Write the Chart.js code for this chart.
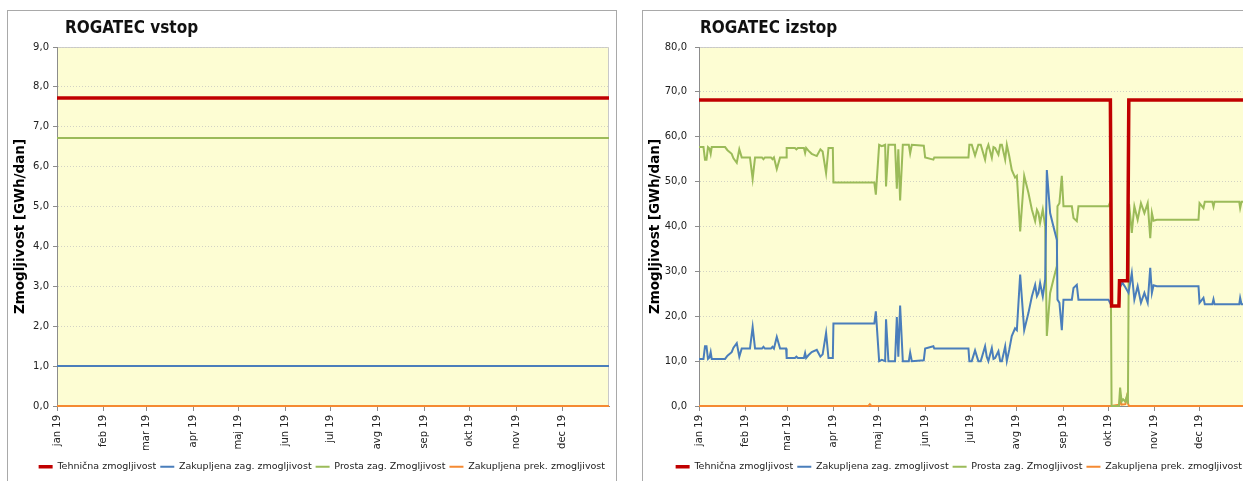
<!DOCTYPE html>
<html lang="sl">
<head>
<meta charset="UTF-8">
<title>ROGATEC vstop / izstop</title>
<script src="https://cdn.jsdelivr.net/npm/chart.js@4"></script>
<style>
  html, body { margin: 0; padding: 0; background: #fff; overflow: hidden; width: 1243px; height: 481px; position: relative; }
  .okvir { position: absolute; top: 10px; border: 1px solid #a9a9a9; background: #fff; }
  #okvirVstop { left: 7px; width: 608px; height: 480px; }
  #okvirIzstop { left: 642px; width: 620px; height: 480px; }
  canvas { display: block; }
</style>
</head>
<body>

<div class="okvir" id="okvirVstop"><canvas id="vstop" width="608" height="472"></canvas></div>
<div class="okvir" id="okvirIzstop"><canvas id="izstop" width="612" height="472"></canvas></div>

<script>
// mesečne oznake na osi x (dan v letu 2019)
const mesecZacetki = [0, 31, 59, 90, 120, 151, 181, 212, 243, 273, 304, 334];
const mesecOznake = ['jan 19', 'feb 19', 'mar 19', 'apr 19', 'maj 19', 'jun 19', 'jul 19', 'avg 19', 'sep 19', 'okt 19', 'nov 19', 'dec 19'];
const imenaSerij = ['Tehnična zmogljivost', 'Zakupljena zag. zmogljivost', 'Prosta zag. Zmogljivost', 'Zakupljena prek. zmogljivost'];

// ROGATEC vstop - konstantne vrednosti
const vstopDni = [0, 365];
const tehnicnaVstop = [7.72, 7.72];
const zakupljenaVstop = [1.0, 1.0];
const prostaVstop = [6.72, 6.72];
const prekinljivaVstop = [0, 0];

// ROGATEC izstop
const tehnicnaDni = [0, 274.5, 275.3, 280.2, 280.6, 286, 286.8, 365];
const tehnicnaIzstop = [68.2, 68.2, 22.3, 22.3, 27.9, 27.9, 68.2, 68.2];

const zakupljenaDni = [0, 3, 4, 5, 6, 7, 7.8, 8.5, 17.4, 19, 21.8, 23, 25.2, 26.9, 28.5, 34, 35.8, 37.4, 42, 43, 44, 48, 49, 50, 51.9, 54.1, 58.1, 58.5, 64, 65, 66, 70, 70.8, 71.5, 73, 75.2, 78.6, 81, 82.5, 84.8, 86.4, 89.3, 89.7, 117, 118, 120.2, 122, 124.2, 124.8, 126.4, 130.8, 132, 133, 134.2, 136, 140, 140.9, 142, 150, 150.9, 156.4, 157, 179.8, 180.4, 182, 184.2, 186.4, 188, 190.9, 192, 193.1, 195.4, 196.5, 197.6, 199.8, 201, 202.1, 204.3, 205.4, 207, 208.7, 210.9, 212.1, 214.3, 217, 219.8, 222.1, 224.3, 225.5, 226.5, 227.6, 229.4, 231, 232.1, 234.3, 236.5, 238.8, 239.2, 240.5, 242.1, 243.2, 248.8, 249.9, 252.1, 253.2, 273.2, 275.3, 280.2, 281, 282.5, 284.4, 286.6, 288.8, 290.5, 292.7, 294.9, 297.2, 299.4, 301.1, 302.2, 303.3, 305.5, 333.3, 334, 336.6, 337.5, 342.5, 343.3, 344, 360.5, 361.1, 362, 365];
const zakupljenaIzstop = [10.5, 10.5, 13.3, 13.3, 10.5, 10.8, 12.0, 10.5, 10.5, 11.2, 12.0, 13.0, 14.0, 11.0, 12.8, 12.8, 17.6, 12.8, 12.8, 13.2, 12.8, 12.8, 13.2, 12.8, 15.4, 12.8, 12.8, 10.7, 10.7, 11.0, 10.7, 10.7, 11.8, 10.7, 11.3, 12.0, 12.5, 11.0, 11.5, 16.3, 10.7, 10.7, 18.4, 18.4, 21.1, 10.0, 10.3, 10.0, 19.3, 10.0, 10.0, 19.8, 11.0, 22.4, 10.0, 10.0, 11.9, 10.0, 10.2, 12.8, 13.3, 12.8, 12.8, 10.0, 10.0, 12.4, 10.0, 10.0, 13.3, 11.0, 10.0, 12.9, 10.5, 10.7, 12.2, 10.0, 10.0, 13.3, 10.0, 12.5, 15.6, 17.3, 16.9, 29.3, 16.9, 20.7, 24.4, 27.0, 24.5, 25.2, 27.4, 24.4, 28.2, 52.6, 43.0, 40.0, 37.0, 23.7, 23.0, 16.9, 23.7, 23.7, 26.3, 27.0, 23.7, 23.7, 22.3, 22.3, 26.5, 27.5, 26.5, 25.2, 29.6, 23.7, 26.7, 23.0, 25.2, 23.0, 30.8, 25.2, 26.9, 26.7, 26.7, 23.0, 24.1, 22.7, 22.7, 23.8, 22.7, 22.7, 24.1, 22.7, 22.7];

const prostaDni = [0, 3, 4, 5, 6, 7, 7.8, 8.5, 17.4, 19, 21.8, 23, 25.2, 26.9, 28.5, 34, 35.8, 37.4, 42, 43, 44, 48, 49, 50, 51.9, 54.1, 58.1, 58.5, 64, 65, 66, 70, 70.8, 71.5, 73, 75.2, 78.6, 81, 82.5, 84.8, 86.4, 89.3, 89.7, 117, 118, 120.2, 122, 124.2, 124.8, 126.4, 130.8, 132, 133, 134.2, 136, 140, 140.9, 142, 150, 150.9, 156.4, 157, 179.8, 180.4, 182, 184.2, 186.4, 188, 190.9, 192, 193.1, 195.4, 196.5, 197.6, 199.8, 201, 202.1, 204.3, 205.4, 207, 208.7, 210.9, 212.1, 214.3, 217, 219.8, 222.1, 224.3, 225.5, 226.5, 227.6, 229.4, 231, 232.1, 234.3, 236.5, 238.8, 239.2, 240.5, 242.1, 243.2, 248.8, 249.9, 252.1, 253.2, 273.2, 274.5, 275.3, 280.2, 281, 282, 283, 284.4, 285.5, 286.2, 287, 288.8, 290.5, 292.7, 294.9, 297.2, 299.4, 301.1, 302.2, 303.3, 305.5, 333.3, 334, 336.6, 337.5, 342.5, 343.3, 344, 360.5, 361.1, 362, 365];
const prostaIzstop = [57.7, 57.7, 54.9, 54.9, 57.7, 57.4, 56.2, 57.7, 57.7, 57.0, 56.2, 55.2, 54.2, 57.2, 55.4, 55.4, 50.6, 55.4, 55.4, 55.0, 55.4, 55.4, 55.0, 55.4, 52.8, 55.4, 55.4, 57.5, 57.5, 57.2, 57.5, 57.5, 56.4, 57.5, 56.9, 56.2, 55.7, 57.2, 56.7, 51.9, 57.5, 57.5, 49.8, 49.8, 47.1, 58.2, 57.9, 58.2, 48.9, 58.2, 58.2, 48.4, 57.2, 45.8, 58.2, 58.2, 56.3, 58.2, 58.0, 55.4, 54.9, 55.4, 55.4, 58.2, 58.2, 55.8, 58.2, 58.2, 54.9, 57.2, 58.2, 55.3, 57.7, 57.5, 56.0, 58.2, 58.2, 54.9, 58.2, 55.7, 52.6, 50.9, 51.3, 38.9, 51.3, 47.5, 43.8, 41.2, 43.7, 43.0, 40.8, 43.8, 40.0, 15.6, 25.2, 28.2, 31.2, 44.5, 45.2, 51.3, 44.5, 44.5, 41.9, 41.2, 44.5, 44.5, 45.5, 0, 0, 4.1, 1.0, 1.5, 1.0, 2.2, 0.5, 45.0, 38.6, 44.5, 41.5, 45.2, 43.0, 45.2, 37.4, 43.0, 41.3, 41.5, 41.5, 45.2, 44.1, 45.5, 45.5, 44.4, 45.5, 45.5, 44.1, 45.5, 45.5];

const prekinljivaDni = [0, 113, 114, 115, 275, 280.5, 281, 282, 284.5, 285.5, 286.5, 287, 365];
const prekinljivaIzstop = [0, 0, 0.4, 0, 0, 0.3, 1.8, 0.3, 0.4, 2.0, 0.3, 0, 0];

const barve = ['#c00000', '#4a7ebb', '#9bbb59', '#f58a32'];
const debeline = [3.5, 2, 2, 2];

function tocke(dni, vrednosti) {
  return dni.map((d, i) => ({ x: d, y: vrednosti[i] }));
}

// rumeno ozadje in obroba risalne površine
const ozadjePlugin = {
  id: 'ozadje',
  beforeDraw(chart) {
    const { ctx, chartArea: a } = chart;
    ctx.save();
    ctx.fillStyle = '#fdfdd3';
    ctx.fillRect(a.left, a.top, a.right - a.left, a.bottom - a.top);
    ctx.strokeStyle = '#c9c9c9';
    ctx.lineWidth = 1;
    ctx.beginPath();
    ctx.moveTo(a.left, a.top + 0.5);
    ctx.lineTo(a.right - 0.5, a.top + 0.5);
    ctx.lineTo(a.right - 0.5, a.bottom);
    ctx.stroke();
    ctx.restore();
  }
};

// naslov levo poravnan nad risalno površino
const naslovPlugin = {
  id: 'naslov',
  afterDraw(chart, args, opts) {
    const ctx = chart.ctx;
    ctx.save();
    ctx.font = 'bold 17px "DejaVu Sans Condensed", "DejaVu Sans", sans-serif';
    ctx.fillStyle = '#111';
    ctx.textBaseline = 'alphabetic';
    ctx.fillText(opts.text, 57, 22);
    ctx.restore();
  }
};

function narediGraf(id, naslov, serije, yMax, yKorak, sirinaOsiY, razmikOznak, desniRob) {
  const ctx = document.getElementById(id).getContext('2d');
  return new Chart(ctx, {
    type: 'line',
    data: {
      datasets: serije.map((s, i) => ({
        label: imenaSerij[i],
        data: tocke(s[0], s[1]),
        borderColor: barve[i],
        backgroundColor: barve[i],
        borderWidth: debeline[i],
        pointRadius: 0,
        tension: 0,
        fill: false,
        clip: false
      }))
    },
    options: {
      responsive: false,
      animation: false,
      layout: { padding: { top: 36, right: desniRob, left: 0, bottom: 1.5 } },
      plugins: {
        naslov: { text: naslov },
        tooltip: { enabled: false },
        legend: {
          position: 'bottom',
          align: 'end',
          labels: {
            usePointStyle: true,
            pointStyle: 'line',
            pointStyleWidth: 14,
            padding: 4,
            color: '#222',
            font: { family: 'DejaVu Sans', size: 9.5 }
          }
        }
      },
      scales: {
        x: {
          type: 'linear',
          min: 0,
          max: 365,
          afterBuildTicks: (scale) => { scale.ticks = mesecZacetki.map(v => ({ value: v })); },
          afterFit: (scale) => { scale.height = 52; },
          ticks: {
            autoSkip: false,
            minRotation: 90,
            maxRotation: 90,
            padding: 4,
            color: '#222',
            font: { family: 'DejaVu Sans', size: 10 },
            callback: (v, i) => mesecOznake[i]
          },
          grid: { drawOnChartArea: false, drawTicks: true, tickLength: 5, color: '#8c8c8c' },
          border: { display: true, color: '#8c8c8c' }
        },
        y: {
          min: 0,
          max: yMax,
          afterFit: (scale) => { scale.width = sirinaOsiY; },
          ticks: {
            stepSize: yKorak,
            padding: razmikOznak,
            color: '#222',
            font: { family: 'DejaVu Sans', size: 10 },
            callback: (v) => v.toFixed(1).replace('.', ',')
          },
          grid: { color: '#d2d2c4', tickLength: 4, tickColor: '#8c8c8c', tickBorderDash: [] },
          border: { display: true, color: '#8c8c8c', dash: [1, 2] },
          title: {
            display: true,
            text: 'Zmogljivost [GWh/dan]',
            color: '#000',
            padding: { top: 4, bottom: 0 },
            font: { family: 'DejaVu Sans', size: 13.5, weight: 'bold' }
          }
        }
      }
    },
    plugins: [ozadjePlugin, naslovPlugin]
  });
}

narediGraf('vstop', 'ROGATEC vstop', [
  [vstopDni, tehnicnaVstop],
  [vstopDni, zakupljenaVstop],
  [vstopDni, prostaVstop],
  [vstopDni, prekinljivaVstop]
], 9, 1, 49, 4, 7);

narediGraf('izstop', 'ROGATEC izstop', [
  [tehnicnaDni, tehnicnaIzstop],
  [zakupljenaDni, zakupljenaIzstop],
  [prostaDni, prostaIzstop],
  [prekinljivaDni, prekinljivaIzstop]
], 80, 10, 56, 8, 9);
</script>

</body>
</html>
